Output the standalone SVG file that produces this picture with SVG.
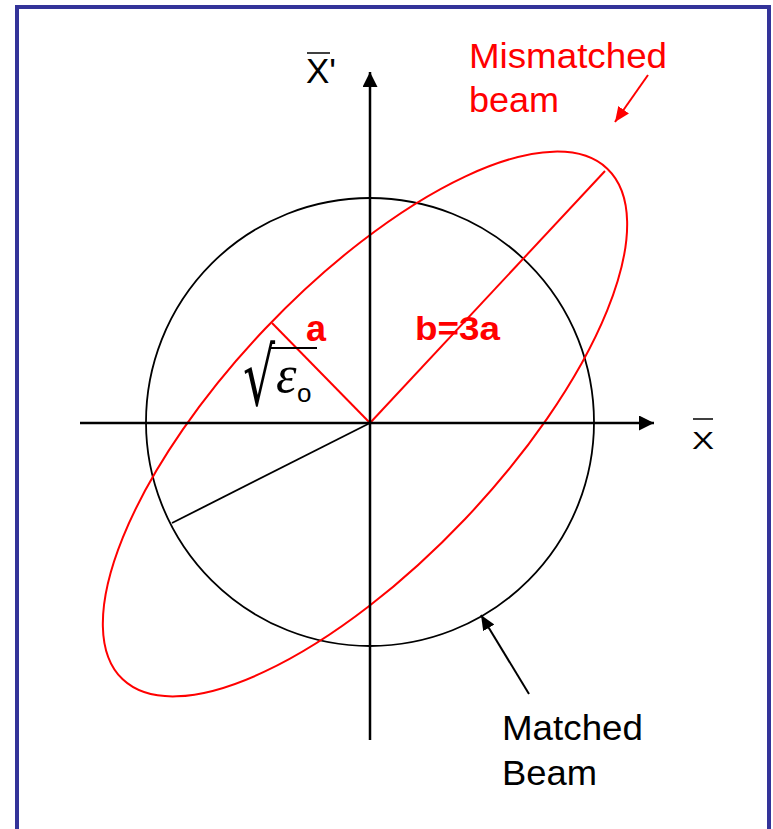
<svg xmlns="http://www.w3.org/2000/svg" width="773" height="829" viewBox="0 0 773 829">
<style>
.ax{stroke:#000;stroke-width:2.5;fill:none}
.blk{stroke:#000;stroke-width:1.8;fill:none}
.red{stroke:#ff0000;stroke-width:2;fill:none}
.lbl{font-family:"Liberation Sans",Arial,sans-serif;font-size:35px}
.bold{font-family:"Liberation Sans",Arial,sans-serif;font-weight:bold;fill:#ff0000}
</style>
<defs>
<marker id="ahb" markerUnits="userSpaceOnUse" markerWidth="16" markerHeight="16" refX="15" refY="7.5" orient="auto"><path d="M0,0 L15,7.5 L0,15 z" fill="#000"/></marker>
<marker id="ahs" markerUnits="userSpaceOnUse" markerWidth="16" markerHeight="14" refX="15" refY="6.5" orient="auto"><path d="M0,0 L15,6.5 L0,13 z" fill="#000"/></marker>
<marker id="ahr" markerUnits="userSpaceOnUse" markerWidth="16" markerHeight="14" refX="15" refY="6.5" orient="auto"><path d="M0,0 L15,6.5 L0,13 z" fill="#ff0000"/></marker>
</defs>
<rect x="0" y="0" width="773" height="829" fill="#fff"/>
<rect x="17" y="7" width="752" height="840" fill="none" stroke="#333399" stroke-width="4"/>

<g id="matched-beam">
<circle cx="370" cy="422" r="224" class="blk"/>
<line x1="370" y1="423" x2="172" y2="523" class="blk"/>
</g>

<g id="mismatched-beam">
<ellipse cx="0" cy="0" rx="352" ry="138" class="red" transform="translate(365,424) rotate(-46.5)"/>
<line x1="370" y1="423" x2="605" y2="171" class="red"/>
<line x1="370" y1="423" x2="272" y2="323" class="red"/>
</g>

<g id="connectors">
<line x1="80" y1="423" x2="654" y2="423" class="ax" marker-end="url(#ahb)"/>
<line x1="370" y1="740" x2="370" y2="72" class="ax" marker-end="url(#ahb)"/>
<line x1="529" y1="694" x2="481" y2="615" stroke="#000" stroke-width="2" marker-end="url(#ahs)"/>
<line x1="648" y1="75" x2="615" y2="122" stroke="#ff0000" stroke-width="2" marker-end="url(#ahr)"/>
</g>

<g id="label-xp">
<text x="306" y="83" class="lbl">X'</text>
<line x1="307" y1="53" x2="330" y2="53" stroke="#000" stroke-width="1.5"/>
</g>
<g id="label-x">
<text x="692" y="449" class="lbl" textLength="22" lengthAdjust="spacingAndGlyphs" style="font-size:24px">X</text>
<line x1="693" y1="419" x2="713" y2="419" stroke="#000" stroke-width="1.5"/>
</g>
<g id="label-mismatched">
<text x="469" y="68" class="lbl" fill="#ff0000" textLength="198" lengthAdjust="spacingAndGlyphs">Mismatched</text>
<text x="469" y="112" class="lbl" fill="#ff0000" textLength="90" lengthAdjust="spacingAndGlyphs">beam</text>
</g>
<g id="label-matched">
<text x="502" y="740" class="lbl" textLength="141" lengthAdjust="spacingAndGlyphs">Matched</text>
<text x="502" y="785" class="lbl" textLength="95" lengthAdjust="spacingAndGlyphs">Beam</text>
</g>
<g id="label-a">
<text x="306" y="341" class="bold" style="font-size:36px">a</text>
</g>
<g id="label-b">
<text x="415" y="340" class="bold" style="font-size:34px" textLength="85" lengthAdjust="spacingAndGlyphs">b=3a</text>
</g>
<g id="label-eps">
<text x="243" y="405" font-family="DejaVu Sans, sans-serif" font-size="80" transform="translate(243,405) scale(0.63,1) translate(-243,-405)">√</text>
<line x1="271" y1="348" x2="317" y2="348" stroke="#000" stroke-width="2"/>
<text x="276" y="392" font-family="Liberation Serif, serif" font-style="italic" font-size="52">ε</text>
<text x="297" y="402" font-family="Liberation Sans, Arial, sans-serif" font-size="26">o</text>
</g>
</svg>
